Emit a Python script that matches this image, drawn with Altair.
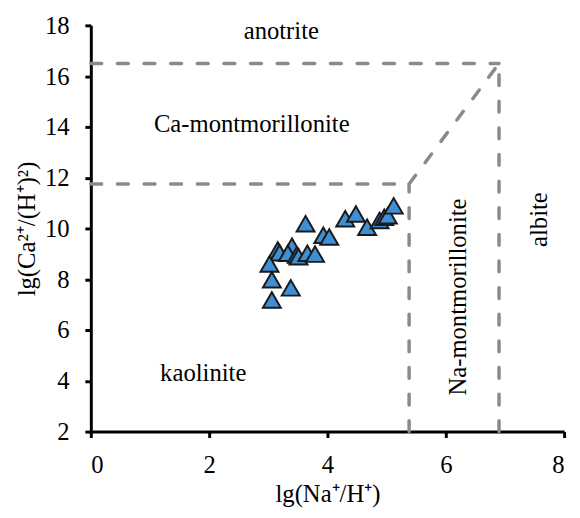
import altair as alt
import pandas as pd

# sample points: lg(Na+/H+) and lg(Ca2+/(H+)^2)
pt_x = [3.63, 3.93, 4.03, 3.16, 3.19, 3.40, 3.33, 3.48, 3.51, 3.66, 3.79,
        3.02, 3.06, 3.38, 3.06, 4.30, 4.48, 4.67, 4.88, 4.96, 5.02, 5.12]
pt_y = [10.19, 9.73, 9.66, 9.15, 9.04, 9.30, 9.02, 8.95, 8.89, 9.02, 8.99,
        8.60, 7.98, 7.66, 7.18, 10.38, 10.57, 10.05, 10.31, 10.44, 10.50, 10.89]

# stability field boundaries
seg_x1 = [0.0, 0.0, 5.38, 5.38, 6.90]
seg_y1 = [16.5, 11.75, 2.0, 11.75, 2.0]
seg_x2 = [6.90, 5.38, 5.38, 6.90, 6.90]
seg_y2 = [16.5, 11.75, 11.75, 16.5, 16.5]

# field names
h_names = ["anotrite", "Ca-montmorillonite", "kaolinite"]
h_x = [3.22, 2.72, 1.9]
h_y = [17.77, 14.1, 4.3]
v_names = ["Na-montmorillonite", "albite"]
v_x = [6.2, 7.58]
v_y = [7.3, 10.35]

x_ticks = [0, 2, 4, 6, 8]
y_ticks = [2, 4, 6, 8, 10, 12, 14, 16, 18]

pts = pd.DataFrame({"x": pt_x, "y": pt_y})
segs = pd.DataFrame({"x1": seg_x1, "y1": seg_y1, "x2": seg_x2, "y2": seg_y2})
hl = pd.DataFrame({"name": h_names, "x": h_x, "y": h_y})
vl = pd.DataFrame({"name": v_names, "x": v_x, "y": v_y})

FONT = "Liberation Serif"
xs = alt.Scale(domain=[0, 8], nice=False)
ys = alt.Scale(domain=[2, 18], nice=False)

xax = alt.Axis(values=x_ticks, format="d", title="lg(Na⁺/H⁺)",
               labelPadding=15, titlePadding=5)
yax = alt.Axis(values=y_ticks, format="d", title="lg(Ca²⁺/(H⁺)²)",
               labelPadding=16, titlePadding=5)

rules = alt.Chart(segs).mark_rule(
    color="#8a8a8a", strokeWidth=3.5, strokeDash=[11, 16], strokeCap="round"
).encode(
    x=alt.X("x1:Q", scale=xs, axis=xax),
    y=alt.Y("y1:Q", scale=ys, axis=yax),
    x2="x2:Q",
    y2="y2:Q",
)

points = alt.Chart(pts).mark_point(
    shape="triangle-up", filled=True, size=330, fill="#3f8fd4",
    stroke="#1a1a1a", strokeWidth=2, opacity=1
).encode(
    x=alt.X("x:Q", scale=xs),
    y=alt.Y("y:Q", scale=ys),
)

htext = alt.Chart(hl).mark_text(
    font=FONT, fontSize=25, color="black", align="center", baseline="middle"
).encode(x=alt.X("x:Q", scale=xs), y=alt.Y("y:Q", scale=ys), text="name:N")

vtext = alt.Chart(vl).mark_text(
    font=FONT, fontSize=25, color="black", align="center", baseline="middle", angle=270
).encode(x=alt.X("x:Q", scale=xs), y=alt.Y("y:Q", scale=ys), text="name:N")

chart = alt.layer(rules, points, htext, vtext).properties(
    width=480, height=412,
    autosize=alt.AutoSizeParams(type="none"),
    padding={"left": 84, "top": 14, "right": 8, "bottom": 80},
).configure_view(stroke=None).configure_axis(
    grid=False,
    domainColor="black", domainWidth=3,
    tickColor="black", tickWidth=3, tickSize=6,
    labelFont=FONT, labelFontSize=25, labelColor="black",
    titleFont=FONT, titleFontSize=25, titleFontWeight="normal", titleColor="black",
)

chart.save("out.html", embed_options={"renderer": "svg", "actions": False})
